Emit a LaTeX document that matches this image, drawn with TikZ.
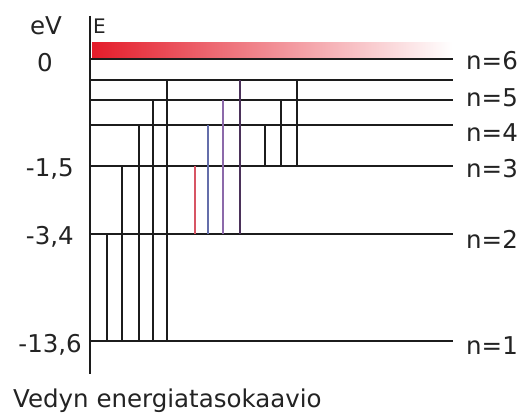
\documentclass[tikz,border=0pt]{standalone}
\usepackage{fontspec}
\setmainfont{DejaVu Sans}
\definecolor{lvl}{RGB}{28,28,28}
\definecolor{txt}{RGB}{35,35,35}
\definecolor{barred}{RGB}{228,28,42}
\definecolor{barmid}{RGB}{240,100,112}
\definecolor{redline}{RGB}{215,85,100}
\definecolor{blueline}{RGB}{100,110,170}
\definecolor{purpleline}{RGB}{140,105,170}
\definecolor{darkpurple}{RGB}{75,50,90}
\begin{document}
\begin{tikzpicture}[x=1pt,y=-1pt,
  level/.style={line width=1.8pt, draw=lvl},
  trans/.style={line width=1.5pt, draw=lvl},
  ctrans/.style={line width=1.3pt},
  lab/.style={font=\fontsize{24.5}{28}\selectfont, text=txt, inner sep=0pt},
  smalllab/.style={font=\fontsize{20}{24}\selectfont, text=txt, inner sep=0pt}]
\useasboundingbox (0,0) rectangle (524,412);
\fill[white] (0,0) rectangle (524,412);
% gradient bar
\shade[left color=barred, middle color=barmid, right color=white] (92,43) rectangle (452,59);
% axis
\draw[level] (90,16) -- (90,374);
% levels
\foreach \y in {59,80,100,125,166,234,341} {
  \draw[level] (90,\y) -- (453,\y);
}
% Lyman
\draw[trans] (107,341) -- (107,234);
\draw[trans] (122,341) -- (122,166);
\draw[trans] (139,341) -- (139,125);
\draw[trans] (153,341) -- (153,100);
\draw[trans] (167,341) -- (167,80);
% Balmer
\draw[ctrans, redline] (195,234) -- (195,166);
\draw[ctrans, blueline] (208,234) -- (208,125);
\draw[ctrans, purpleline] (223,234) -- (223,100);
\draw[ctrans, darkpurple] (240,234) -- (240,80);
% Paschen
\draw[trans] (265,166) -- (265,125);
\draw[trans] (281,166) -- (281,100);
\draw[trans] (297,166) -- (297,80);
% texts
\node[lab, anchor=base] (ev) at (46,35) {eV};
\node[lab, anchor=base] (zero) at (45,71) {0};
\node[smalllab, anchor=base west] (E) at (93,34) {E};
\node[lab, anchor=base east] (m15) at (74,176) {-1,5};
\node[lab, anchor=base east] (m34) at (74,244) {-3,4};
\node[lab, anchor=base east] (m136) at (82,352) {-13,6};
\node[lab, anchor=base west] (n6) at (466,69) {n=6};
\node[lab, anchor=base west] (n5) at (466,106) {n=5};
\node[lab, anchor=base west] (n4) at (466,141) {n=4};
\node[lab, anchor=base west] (n3) at (466,177) {n=3};
\node[lab, anchor=base west] (n2) at (466,248) {n=2};
\node[lab, anchor=base west] (n1) at (466,354) {n=1};
\node[lab, anchor=base west] (cap) at (13,407) {Vedyn energiatasokaavio};
\end{tikzpicture}
\end{document}
